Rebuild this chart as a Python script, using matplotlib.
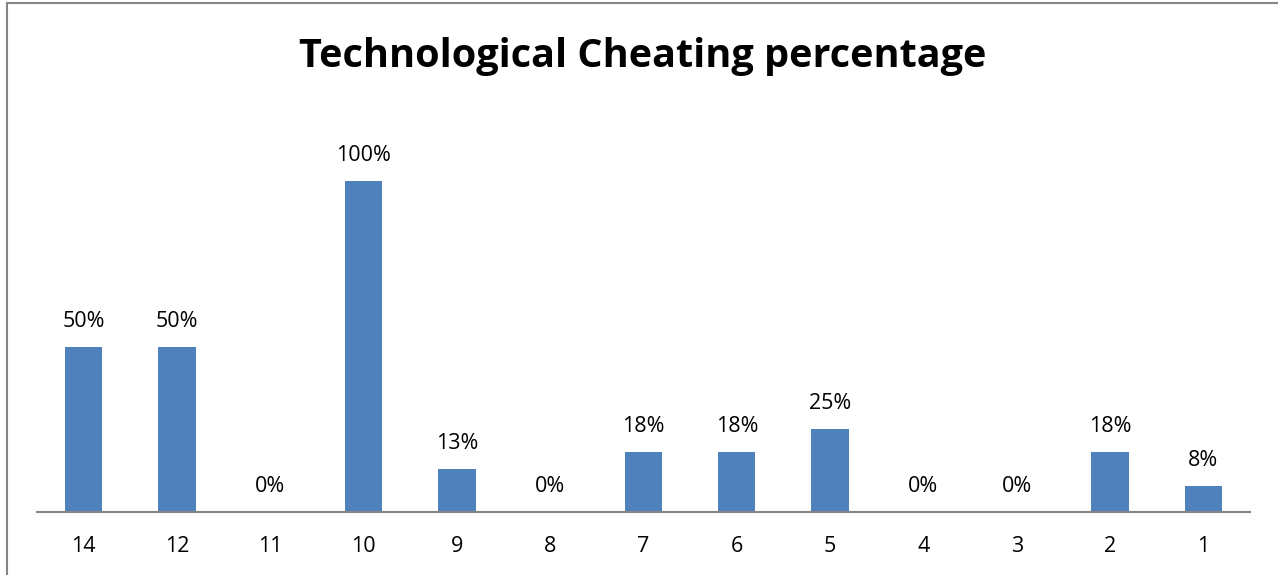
import matplotlib
matplotlib.use("Agg")
import matplotlib.pyplot as plt
from matplotlib.lines import Line2D

plt.rcParams['font.family'] = ['Open Sans', 'DejaVu Sans']

# data
categories = ["14", "12", "11", "10", "9", "8", "7", "6", "5", "4", "3", "2", "1"]
values = [50, 50, 0, 100, 13, 0, 18, 18, 25, 0, 0, 18, 8]
labels = ["50%", "50%", "0%", "100%", "13%", "0%", "18%", "18%", "25%", "0%", "0%", "18%", "8%"]

W, H = 1278, 575
fig = plt.figure(figsize=(W / 100, H / 100), dpi=100)

# plot area: x 37..1250 px, baseline at y=512 px
ax = fig.add_axes([37 / W, (H - 512) / H, (1250 - 37) / W, 397 / H])
x = range(len(categories))
bars = ax.bar(x, values, width=0.4, color="#4F81BD")
ax.set_xlim(-0.5, len(categories) - 0.5)
ax.set_ylim(0, 120)

for b, lab in zip(bars, labels):
    ax.annotate(lab, (b.get_x() + b.get_width() / 2, b.get_height()),
                xytext=(0, 14.4), textcoords="offset points",
                ha="center", va="baseline", fontsize=15.5, color="black")

ax.set_xticks(list(x))
ax.set_xticklabels(categories, fontsize=15.5)
ax.tick_params(axis="x", length=0, pad=17)
ax.set_yticks([])
for s in ["top", "right", "left"]:
    ax.spines[s].set_visible(False)
ax.spines["bottom"].set_color("#868686")
ax.spines["bottom"].set_linewidth(1.5)

fig.text(0.5025, 1 - 57 / H, "Technological Cheating percentage",
         ha="center", va="center", fontsize=28.5, fontweight="bold")

# chart frame (cropped on right and bottom)
fig.add_artist(Line2D([7 / W, 7 / W], [0, 1 - 3 / H], color="#868686", lw=1.5))
fig.add_artist(Line2D([7 / W, 1], [1 - 3 / H, 1 - 3 / H], color="#868686", lw=1.5))

fig.savefig("out.png", dpi=100)
